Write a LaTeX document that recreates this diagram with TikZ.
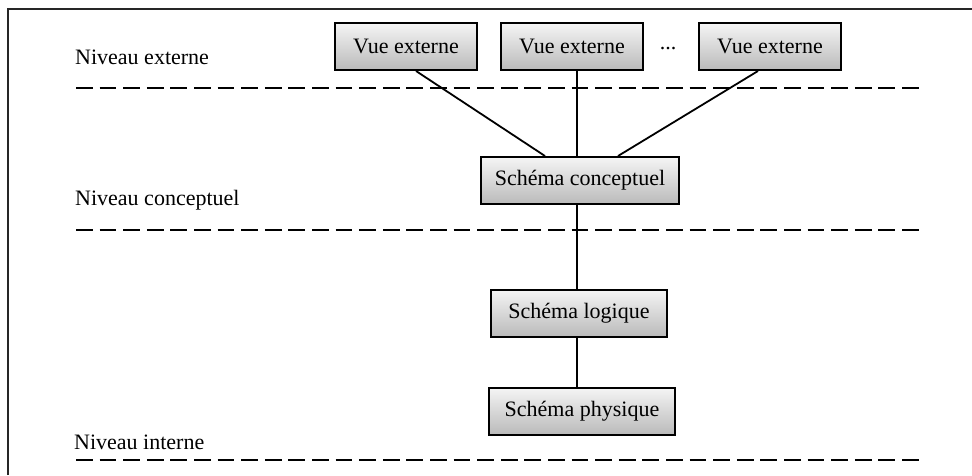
\documentclass[tikz,border=0pt]{standalone}
\usepackage{fontspec}
\setmainfont{Liberation Serif}
\usepackage{tikz}
\usetikzlibrary{positioning}

\begin{document}
\begin{tikzpicture}[x=1pt,y=-1pt,
    txt/.style={font=\fontsize{22}{26}\selectfont,inner sep=0pt},
    boite/.style={txt,draw,line width=2pt,top color=white!96!black,bottom color=black!27,minimum height=47pt},
    niveau/.style={line width=2pt,dash pattern=on 16.7pt off 6.9pt},
    lien/.style={line width=1.8pt}]
    \useasboundingbox (0,0) rectangle (972,475) ;
    \draw [line width=2.6pt,black!85] (8,475) -- (8,9) -- (972,9) ;

    \draw[niveau] (76,88) -- (919,88) ;
    \draw[niveau] (76,230) -- (919,230) ;
    \draw[niveau] (76,460) -- (919,460) ;
    \node[txt,anchor=west] (ext) at (75,57) {Niveau externe} ;
    \node[txt,anchor=west] (conc) at (75,200) {Niveau conceptuel} ;
    \node[txt,anchor=west] (int) at (74,442) {Niveau interne} ;

    \node[boite,minimum width=142pt] (vue1) at (406,46.5) {Vue externe} ;
    \node[boite,minimum width=142pt] (vue2) at (572,46.5) {Vue externe} ;
    \node[txt,anchor=base] (dots) at (668,49) {...} ;
    \node[boite,minimum width=142pt] (vue3) at (770,46.5) {Vue externe} ;
    \node[boite,minimum width=198pt] (sc) at (580,180.5) {Schéma conceptuel} ;
    \node[boite,minimum width=176pt] (sl) at (579,313) {Schéma logique} ;
    \node[boite,minimum width=186pt] (sp) at (582,411) {Schéma physique} ;

    \draw[lien] ([xshift=10pt]vue1.south) -- ([xshift=-35pt]sc.north) ;
    \draw[lien] ([xshift=5pt]vue2.south) -- ([xshift=-3pt]sc.north) ;
    \draw[lien] ([xshift=-12pt]vue3.south) -- ([xshift=38pt]sc.north) ;
    \draw[lien] ([xshift=-3pt]sc.south) -- ([xshift=-2pt]sl.north) ;
    \draw[lien] ([xshift=-2pt]sl.south) -- ([xshift=-5pt]sp.north) ;
\end{tikzpicture}
\end{document}
